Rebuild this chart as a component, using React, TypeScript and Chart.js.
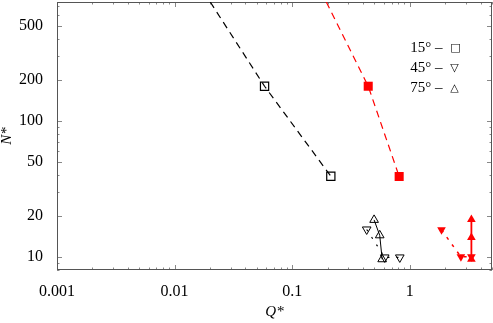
import React, { useEffect, useRef } from 'react';
import { Chart, registerables } from 'chart.js';
Chart.register(...registerables);

// axis ticks
const xTickValues = [0.001, 0.01, 0.1, 1];
const xTickLabels = ['0.001', '0.01', '0.1', '1'];
const yTickValues = [10, 20, 50, 100, 200, 500];
const yTickLabels = ['10', '20', '50', '100', '200', '500'];
const xRange = [0.001, 5];
const yRange = [8, 750];

// legend text
const legendAngles = ['15°', '45°', '75°'];
const legendSymbols = ['□', '▽', '△'];

// fit lines (15°)
const fitBlackQ = [0.0201, 0.0582, 0.213];
const fitBlackN = [750, 180, 39.2];
const fitRedQ = [0.195, 0.443, 0.812];
const fitRedN = [750, 180, 39];

// 15° squares
const black15Q = [0.0582, 0.213];
const black15N = [180, 39.2];
const red15Q = [0.443, 0.812];
const red15N = [180, 39];

// 45° down triangles
const black45Q = [0.43, 0.612, 0.822];
const black45N = [15.9, 9.9, 9.9];
const red45Q = [1.86, 2.72, 3.34];
const red45N = [15.8, 10.0, 10.0];

// 75° up triangles
const black75Q = [0.497, 0.555, 0.582];
const black75N = [18.7, 14.4, 9.6];
const red75Q = [3.34, 3.34, 3.34];
const red75N = [18.8, 13.9, 9.6];

const FONT = "'Liberation Serif', 'Times New Roman', serif";

const pts = (q: number[], n: number[]) => q.map((x, i) => ({ x, y: n[i] }));

function minorValues(lo: number, hi: number, majors: number[]) {
  const out: number[] = [];
  for (let e = -4; e <= 4; e++) {
    const d = Math.pow(10, e);
    for (let k = 1; k <= 9; k++) {
      const v = k * d;
      if (v < lo * 0.999 || v > hi * 1.001) continue;
      if (majors.some((m) => Math.abs(m - v) / m < 1e-6)) continue;
      out.push(v);
    }
  }
  return out;
}

const framePlugin = {
  id: 'frame',
  beforeDatasetsDraw(chart: any) {
    const { ctx, chartArea } = chart;
    const { left, right, top, bottom } = chartArea;
    const xs = chart.scales.x;
    const ys = chart.scales.y;
    ctx.save();
    ctx.strokeStyle = '#888';
    ctx.lineWidth = 1;
    const xMinor = minorValues(xRange[0], xRange[1], xTickValues);
    const yMinor = minorValues(yRange[0], yRange[1], yTickValues);
    const drawX = (v: number, len: number) => {
      const p = Math.round(xs.getPixelForValue(v)) + 0.5;
      ctx.beginPath();
      ctx.moveTo(p, bottom);
      ctx.lineTo(p, bottom - len);
      ctx.moveTo(p, top);
      ctx.lineTo(p, top + len);
      ctx.stroke();
    };
    const drawY = (v: number, len: number) => {
      const p = Math.round(ys.getPixelForValue(v)) + 0.5;
      ctx.beginPath();
      ctx.moveTo(left, p);
      ctx.lineTo(left + len, p);
      ctx.moveTo(right, p);
      ctx.lineTo(right - len, p);
      ctx.stroke();
    };
    xTickValues.forEach((v) => drawX(v, 5));
    xMinor.forEach((v) => drawX(v, 2.5));
    yTickValues.forEach((v) => drawY(v, 5));
    yMinor.forEach((v) => drawY(v, 2.5));
    ctx.strokeStyle = '#555';
    ctx.strokeRect(Math.round(left) + 0.5, Math.round(top) + 0.5, Math.round(right - left) - 1, Math.round(bottom - top) - 1);
    ctx.restore();
  },
  afterDraw(chart: any) {
    const { ctx, chartArea } = chart;
    const { left, right, top, bottom } = chartArea;
    const w = right - left;
    const h = bottom - top;
    ctx.save();
    ctx.fillStyle = '#000';
    ctx.textAlign = 'left';
    ctx.textBaseline = 'middle';
    const x0 = left + w * 0.812;
    legendAngles.forEach((t, i) => {
      const y = top + h * 0.172 + i * 20;
      ctx.font = `15px ${FONT}`;
      ctx.fillText(t + ' –', x0, y);
      ctx.font = `11px 'DejaVu Sans', sans-serif`;
      ctx.fillText(legendSymbols[i], x0 + 40, y);
    });
    ctx.restore();
  },
};

export default function App() {
  const ref = useRef<HTMLCanvasElement | null>(null);
  useEffect(() => {
    document.body.style.margin = '0';
    if (!ref.current) return;
    const common = { showLine: true, fill: false };
    const chart = new Chart(ref.current, {
      type: 'scatter',
      data: {
        datasets: [
          {
            ...common,
            data: pts(fitBlackQ, fitBlackN),
            borderColor: '#000',
            borderWidth: 1.2,
            borderDash: [7, 5],
            pointRadius: 0,
          },
          {
            ...common,
            data: pts(fitRedQ, fitRedN),
            borderColor: '#f00',
            borderWidth: 1.2,
            borderDash: [7, 5],
            pointRadius: 0,
          },
          {
            data: pts(black15Q, black15N),
            showLine: false,
            pointStyle: 'rect',
            pointRadius: 5.8,
            pointBorderColor: '#000',
            pointBackgroundColor: 'rgba(0,0,0,0)',
            pointBorderWidth: 1.2,
          },
          {
            data: pts(red15Q, red15N),
            showLine: false,
            pointStyle: 'rect',
            pointRadius: 6.4,
            pointBorderColor: '#f00',
            pointBackgroundColor: '#f00',
            pointBorderWidth: 0,
          },
          {
            ...common,
            data: pts(black45Q, black45N),
            borderColor: '#000',
            borderWidth: 1.2,
            borderDash: [2, 7],
            pointStyle: 'triangle',
            pointRotation: 180,
            pointRadius: 5,
            pointBorderColor: '#000',
            pointBackgroundColor: 'rgba(0,0,0,0)',
            pointBorderWidth: 1,
          },
          {
            ...common,
            data: pts(black75Q, black75N),
            borderColor: '#000',
            borderWidth: 1,
            pointStyle: 'triangle',
            pointRadius: 5,
            pointBorderColor: '#000',
            pointBackgroundColor: 'rgba(0,0,0,0)',
            pointBorderWidth: 1,
          },
          {
            ...common,
            data: pts(red45Q, red45N),
            borderColor: '#f00',
            borderWidth: 1.5,
            borderDash: [3, 6],
            pointStyle: 'triangle',
            pointRotation: 180,
            pointRadius: 5,
            pointBorderColor: '#f00',
            pointBackgroundColor: '#f00',
            pointBorderWidth: 0,
          },
          {
            ...common,
            data: pts(red75Q, red75N),
            borderColor: '#f00',
            borderWidth: 1.8,
            pointStyle: 'triangle',
            pointRadius: 5,
            pointBorderColor: '#f00',
            pointBackgroundColor: '#f00',
            pointBorderWidth: 0,
          },
        ] as any,
      },
      options: {
        animation: false,
        responsive: false,
        layout: { autoPadding: false, padding: { top: 2, right: 1, left: 0, bottom: 0 } },
        plugins: { legend: { display: false }, tooltip: { enabled: false } },
        scales: {
          x: {
            type: 'logarithmic',
            min: xRange[0],
            max: xRange[1],
            afterBuildTicks: (s: any) => {
              s.ticks = xTickValues.map((v) => ({ value: v }));
            },
            afterFit: (s: any) => {
              s.height = 53;
              s.paddingLeft = 0;
              s.paddingRight = 0;
            },
            grid: { display: false },
            border: { display: false },
            ticks: {
              autoSkip: false,
              maxRotation: 0,
              padding: 4,
              color: '#000',
              font: { family: FONT, size: 16 },
              callback: (v: any) => {
                const i = xTickValues.indexOf(Number(v));
                return i >= 0 ? xTickLabels[i] : '';
              },
            },
            title: {
              display: true,
              text: 'Q*',
              color: '#000',
              font: { family: FONT, size: 15, style: 'italic', lineHeight: 1 },
              padding: { top: 0, bottom: 3 },
            },
          },
          y: {
            type: 'logarithmic',
            min: yRange[0],
            max: yRange[1],
            afterBuildTicks: (s: any) => {
              s.ticks = yTickValues.map((v) => ({ value: v }));
            },
            afterFit: (s: any) => {
              s.width = 57;
              s.paddingTop = 0;
              s.paddingBottom = 0;
            },
            grid: { display: false },
            border: { display: false },
            ticks: {
              autoSkip: false,
              padding: 6,
              color: '#000',
              font: { family: FONT, size: 16 },
              callback: (v: any) => {
                const i = yTickValues.indexOf(Number(v));
                return i >= 0 ? yTickLabels[i] : '';
              },
            },
            title: {
              display: true,
              text: 'N*',
              color: '#000',
              font: { family: FONT, size: 15, style: 'italic', lineHeight: 1 },
              padding: { top: 0, bottom: 0 },
            },
          },
        },
      } as any,
      plugins: [framePlugin],
    });
    return () => chart.destroy();
  }, []);
  return (
    <div style={{ width: 493, height: 323 }}>
      <canvas ref={ref} width={493} height={323} style={{ display: 'block' }} />
    </div>
  );
}
